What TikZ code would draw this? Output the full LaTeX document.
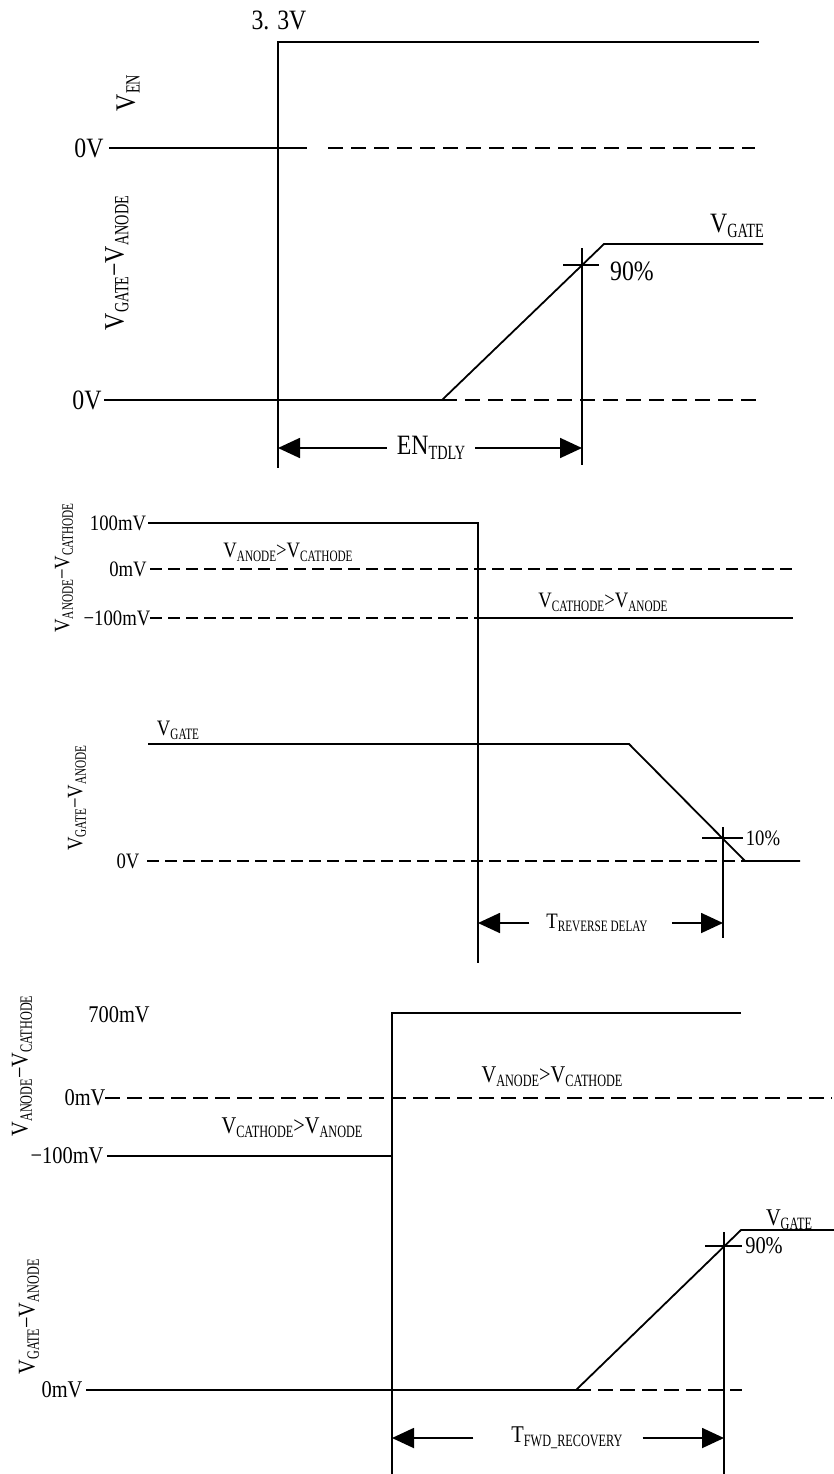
\documentclass[tikz,border=0pt]{standalone}
\usepackage{fontspec}
\setmainfont[FakeStretch=0.85]{Liberation Serif}
\usetikzlibrary{arrows.meta}
\newcommand\sbx[1]{\raisebox{-0.17em}{\scalebox{0.6}[0.72]{#1}}}
\begin{document}
\begin{tikzpicture}[x=1pt,y=-1pt,
  sig/.style={line width=1.8pt,line join=miter},
  mk/.style={line width=1.2pt},
  dsha/.style={line width=1.8pt,dash pattern=on 15pt off 8pt},
  dshb/.style={line width=1.8pt,dash pattern=on 12pt off 6pt},
  dshc/.style={line width=1.8pt,dash pattern=on 15pt off 7pt},
  arr/.style={line width=1.8pt,-{Triangle[length=22pt,width=20pt]}},
  big/.style={font=\fontsize{28}{30}\selectfont,inner sep=0pt},
  mid/.style={font=\fontsize{22}{24}\selectfont,inner sep=0pt},
  lg/.style={font=\fontsize{24}{26}\selectfont,inner sep=0pt}]
\useasboundingbox (0,0) rectangle (834,1474);

% ---------------- Section 1 ----------------
\node[big] (t33) at (279,20) {3. 3V};
\node[big,rotate=90] (ven) at (128,93) {V\sbx{EN}};
\node[big] (z1) at (89,148) {0V};
\node[big,rotate=90] (vga1) at (117,263) {V\sbx{GATE}−V\sbx{ANODE}};
\node[big] (z2) at (87,400) {0V};
\node[big] (vgate1) at (737,226) {V\sbx{GATE}};
\node[big] (p90a) at (632,271) {90\%};
\node[big] (entd) at (431,448) {EN\sbx{TDLY}};

\draw[sig] (109,148) -- (307,148);
\draw[sig] (278,148) -- (278,42) -- (759,42);
\draw[dsha] (328,148) -- (755,148);
\draw[mk] (278,148) -- (278,468);
\draw[sig] (104,400) -- (442,400) -- (604,244) -- (763,244);
\draw[dsha] (442,400) -- (763,400);
\draw[mk] (582,248) -- (582,465);
\draw[mk] (563,265) -- (599,265);
\coordinate (a1l) at (278,448);
\coordinate (a1r) at (582,448);
\draw[arr] ([xshift=-10pt]entd.west |- a1l) -- (a1l);
\draw[arr] ([xshift=10pt]entd.east |- a1r) -- (a1r);

% ---------------- Section 2 ----------------
\node[mid,rotate=90] (vac2) at (64,568) {V\sbx{ANODE}−V\sbx{CATHODE}};
\node[mid] (l100) at (118,523) {100mV};
\node[mid] (l0) at (128,569) {0mV};
\node[mid] (lm100) at (117,618) {−100mV};
\node[mid] (r1) at (288,552) {V\sbx{ANODE}>V\sbx{CATHODE}};
\node[mid] (r2) at (603,602) {V\sbx{CATHODE}>V\sbx{ANODE}};
\node[mid] (vgate2) at (178,730) {V\sbx{GATE}};
\node[mid,rotate=90] (vga2) at (77,798) {V\sbx{GATE}−V\sbx{ANODE}};
\node[mid] (l0v) at (128,861) {0V};
\node[mid] (p10) at (763,838) {10\%};
\node[mid] (trd) at (597,923) {T\sbx{REVERSE DELAY}};

\draw[sig] (148,523) -- (478,523) -- (478,618) -- (793,618);
\draw[mk] (478,618) -- (478,963);
\draw[dshb] (150,569) -- (793,569);
\draw[dshb] (150,618) -- (478,618);
\draw[sig] (148,744) -- (629,744) -- (745,861) -- (800,861);
\draw[dshb] (147,861) -- (745,861);
\draw[mk] (723,827) -- (723,938);
\draw[mk] (702,838) -- (743,838);
\coordinate (a2l) at (478,923);
\coordinate (a2r) at (723,923);
\draw[arr] ([xshift=-17pt]trd.west |- a2l) -- (a2l);
\draw[arr] ([xshift=24pt]trd.east |- a2r) -- (a2r);

% ---------------- Section 3 ----------------
\node[lg,rotate=90] (vac3) at (22,1066) {V\sbx{ANODE}−V\sbx{CATHODE}};
\node[lg] (l700) at (119,1015) {700mV};
\node[lg] (l0b) at (85,1098) {0mV};
\node[lg] (lm100b) at (67,1156) {−100mV};
\node[lg] (r3) at (292,1128) {V\sbx{CATHODE}>V\sbx{ANODE}};
\node[lg] (r4) at (552,1077) {V\sbx{ANODE}>V\sbx{CATHODE}};
\node[lg,rotate=90] (vga3) at (29,1317) {V\sbx{GATE}−V\sbx{ANODE}};
\node[lg] (l0c) at (62,1390) {0mV};
\node[lg] (vgate3) at (789,1220) {V\sbx{GATE}};
\node[lg] (p90b) at (764,1246) {90\%};
\node[lg] (tfr) at (567,1438) {T\sbx{FWD\_RECOVERY}};

\draw[sig] (107,1156) -- (392,1156) -- (392,1013) -- (741,1013);
\draw[mk] (392,1156) -- (392,1474);
\draw[dshc] (105,1098) -- (832,1098);
\draw[sig] (86,1390) -- (576,1390) -- (741,1230) -- (834,1230);
\draw[dshc] (576,1390) -- (742,1390);
\draw[mk] (724,1232) -- (724,1474);
\draw[mk] (705,1246) -- (742,1246);
\coordinate (a3l) at (392,1438);
\coordinate (a3r) at (724,1438);
\draw[arr] ([xshift=-38pt]tfr.west |- a3l) -- (a3l);
\draw[arr] ([xshift=20pt]tfr.east |- a3r) -- (a3r);
\end{tikzpicture}
\end{document}
